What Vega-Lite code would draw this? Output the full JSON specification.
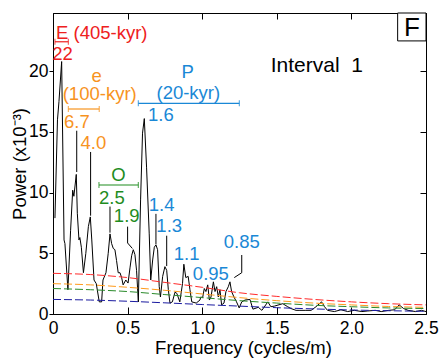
{
  "$schema": "https://vega.github.io/schema/vega-lite/v6.json",
  "width": 373,
  "height": 301,
  "autosize": "none",
  "padding": {"left": 53, "top": 13, "right": 16, "bottom": 44},
  "config": {
    "view": {"stroke": "black", "strokeWidth": 1},
    "font": "Liberation Sans",
    "axis": {"grid": false, "domainColor": "black", "tickColor": "black", "labelColor": "black", "titleColor": "black", "labelFont": "Liberation Sans", "titleFont": "Liberation Sans", "titleFontWeight": "normal", "domainWidth": 1, "tickWidth": 1}
  },
  "datasets": {
    "spectrum": [
      {"f": 0.013, "p": 7.9}, {"f": 0.03, "p": 16.0}, {"f": 0.04, "p": 17.5}, {"f": 0.058, "p": 20.8}, {"f": 0.074, "p": 6.1}, {"f": 0.08, "p": 5.8}, {"f": 0.1, "p": 2.0}, {"f": 0.118, "p": 6.9}, {"f": 0.132, "p": 10.2}, {"f": 0.14, "p": 9.7}, {"f": 0.156, "p": 11.5}, {"f": 0.163, "p": 8.3}, {"f": 0.174, "p": 6.1}, {"f": 0.18, "p": 6.3}, {"f": 0.19, "p": 5.5}, {"f": 0.204, "p": 3.4}, {"f": 0.22, "p": 5.0}, {"f": 0.237, "p": 7.2}, {"f": 0.25, "p": 8.0}, {"f": 0.26, "p": 6.1}, {"f": 0.275, "p": 2.8}, {"f": 0.29, "p": 2.5}, {"f": 0.31, "p": 1.0}, {"f": 0.326, "p": 1.0}, {"f": 0.335, "p": 2.8}, {"f": 0.355, "p": 3.4}, {"f": 0.37, "p": 5.0}, {"f": 0.382, "p": 6.6}, {"f": 0.393, "p": 5.8}, {"f": 0.404, "p": 5.4}, {"f": 0.415, "p": 5.3}, {"f": 0.426, "p": 4.4}, {"f": 0.437, "p": 3.4}, {"f": 0.449, "p": 3.4}, {"f": 0.46, "p": 3.0}, {"f": 0.47, "p": 2.4}, {"f": 0.488, "p": 2.8}, {"f": 0.503, "p": 2.55}, {"f": 0.516, "p": 3.8}, {"f": 0.527, "p": 4.8}, {"f": 0.538, "p": 5.3}, {"f": 0.549, "p": 4.9}, {"f": 0.56, "p": 3.6}, {"f": 0.572, "p": 1.0}, {"f": 0.587, "p": 9.4}, {"f": 0.6, "p": 14.9}, {"f": 0.612, "p": 16.1}, {"f": 0.627, "p": 12.1}, {"f": 0.645, "p": 6.6}, {"f": 0.655, "p": 2.8}, {"f": 0.668, "p": 4.45}, {"f": 0.679, "p": 5.5}, {"f": 0.69, "p": 5.7}, {"f": 0.701, "p": 5.3}, {"f": 0.712, "p": 2.25}, {"f": 0.72, "p": 1.4}, {"f": 0.735, "p": 3.1}, {"f": 0.75, "p": 3.9}, {"f": 0.762, "p": 3.6}, {"f": 0.773, "p": 2.0}, {"f": 0.784, "p": 0.9}, {"f": 0.8, "p": 1.0}, {"f": 0.818, "p": 1.8}, {"f": 0.83, "p": 1.7}, {"f": 0.85, "p": 1.0}, {"f": 0.868, "p": 2.5}, {"f": 0.877, "p": 4.1}, {"f": 0.89, "p": 3.0}, {"f": 0.906, "p": 3.1}, {"f": 0.918, "p": 2.0}, {"f": 0.93, "p": 1.0}, {"f": 0.96, "p": 0.9}, {"f": 0.985, "p": 1.15}, {"f": 0.99, "p": 1.4}, {"f": 1.003, "p": 1.35}, {"f": 1.014, "p": 2.1}, {"f": 1.025, "p": 1.85}, {"f": 1.037, "p": 2.4}, {"f": 1.048, "p": 1.15}, {"f": 1.059, "p": 1.4}, {"f": 1.075, "p": 2.65}, {"f": 1.086, "p": 1.85}, {"f": 1.097, "p": 2.25}, {"f": 1.108, "p": 1.4}, {"f": 1.119, "p": 2.0}, {"f": 1.13, "p": 0.75}, {"f": 1.146, "p": 0.9}, {"f": 1.159, "p": 1.85}, {"f": 1.175, "p": 2.25}, {"f": 1.186, "p": 2.65}, {"f": 1.197, "p": 1.85}, {"f": 1.213, "p": 1.4}, {"f": 1.23, "p": 1.0}, {"f": 1.248, "p": 0.5}, {"f": 1.265, "p": 1.0}, {"f": 1.287, "p": 1.15}, {"f": 1.32, "p": 1.2}, {"f": 1.34, "p": 0.4}, {"f": 1.376, "p": 0.55}, {"f": 1.4, "p": 0.3}, {"f": 1.44, "p": 1.0}, {"f": 1.46, "p": 0.6}, {"f": 1.484, "p": 0.65}, {"f": 1.54, "p": 0.85}, {"f": 1.573, "p": 0.6}, {"f": 1.595, "p": 0.45}, {"f": 1.629, "p": 0.3}, {"f": 1.655, "p": 0.3}, {"f": 1.69, "p": 0.3}, {"f": 1.73, "p": 0.3}, {"f": 1.763, "p": 0.6}, {"f": 1.8, "p": 1.0}, {"f": 1.82, "p": 0.6}, {"f": 1.84, "p": 0.3}, {"f": 1.886, "p": 0.2}, {"f": 1.93, "p": 0.35}, {"f": 1.975, "p": 0.2}, {"f": 2.02, "p": 0.3}, {"f": 2.07, "p": 0.2}, {"f": 2.11, "p": 0.25}, {"f": 2.16, "p": 0.3}, {"f": 2.2, "p": 0.2}, {"f": 2.25, "p": 0.3}, {"f": 2.29, "p": 0.35}, {"f": 2.32, "p": 0.75}, {"f": 2.35, "p": 0.45}, {"f": 2.38, "p": 0.3}, {"f": 2.43, "p": 0.2}, {"f": 2.47, "p": 0.3}, {"f": 2.5, "p": 0.2}
    ],
    "levels": [
      {"g": "99%", "f": 0, "p": 3.35}, {"g": "99%", "f": 0.25, "p": 3.25}, {"g": "99%", "f": 0.5, "p": 3.0}, {"g": "99%", "f": 0.75, "p": 2.6}, {"g": "99%", "f": 1.0, "p": 2.2}, {"g": "99%", "f": 1.25, "p": 1.75}, {"g": "99%", "f": 1.5, "p": 1.45}, {"g": "99%", "f": 1.75, "p": 1.2}, {"g": "99%", "f": 2.0, "p": 1.0}, {"g": "99%", "f": 2.25, "p": 0.85}, {"g": "99%", "f": 2.5, "p": 0.75},
      {"g": "95%", "f": 0, "p": 2.5}, {"g": "95%", "f": 0.25, "p": 2.4}, {"g": "95%", "f": 0.5, "p": 2.2}, {"g": "95%", "f": 0.75, "p": 1.95}, {"g": "95%", "f": 1.0, "p": 1.65}, {"g": "95%", "f": 1.25, "p": 1.35}, {"g": "95%", "f": 1.5, "p": 1.1}, {"g": "95%", "f": 1.75, "p": 0.9}, {"g": "95%", "f": 2.0, "p": 0.75}, {"g": "95%", "f": 2.25, "p": 0.62}, {"g": "95%", "f": 2.5, "p": 0.55},
      {"g": "90%", "f": 0, "p": 2.1}, {"g": "90%", "f": 0.25, "p": 2.0}, {"g": "90%", "f": 0.5, "p": 1.85}, {"g": "90%", "f": 0.75, "p": 1.6}, {"g": "90%", "f": 1.0, "p": 1.35}, {"g": "90%", "f": 1.25, "p": 1.1}, {"g": "90%", "f": 1.5, "p": 0.9}, {"g": "90%", "f": 1.75, "p": 0.72}, {"g": "90%", "f": 2.0, "p": 0.6}, {"g": "90%", "f": 2.25, "p": 0.5}, {"g": "90%", "f": 2.5, "p": 0.45},
      {"g": "AR1", "f": 0, "p": 1.2}, {"g": "AR1", "f": 0.25, "p": 1.15}, {"g": "AR1", "f": 0.5, "p": 1.05}, {"g": "AR1", "f": 0.75, "p": 0.92}, {"g": "AR1", "f": 1.0, "p": 0.78}, {"g": "AR1", "f": 1.25, "p": 0.65}, {"g": "AR1", "f": 1.5, "p": 0.52}, {"g": "AR1", "f": 1.75, "p": 0.42}, {"g": "AR1", "f": 2.0, "p": 0.33}, {"g": "AR1", "f": 2.25, "p": 0.27}, {"g": "AR1", "f": 2.5, "p": 0.22}
    ],
    "labels": [
      {"t": "E (405-kyr)", "g": "E", "f": 0.327, "p": 22.63},
      {"t": "22", "g": "E", "f": 0.064, "p": 20.92},
      {"t": "e", "g": "e", "f": 0.293, "p": 19.14},
      {"t": "(100-kyr)", "g": "e", "f": 0.313, "p": 17.63},
      {"t": "6.7", "g": "e", "f": 0.16, "p": 15.3},
      {"t": "4.0", "g": "e", "f": 0.271, "p": 13.59},
      {"t": "O", "g": "O", "f": 0.438, "p": 10.96},
      {"t": "2.5", "g": "O", "f": 0.395, "p": 9.03},
      {"t": "1.9", "g": "O", "f": 0.494, "p": 7.55},
      {"t": "P", "g": "P", "f": 0.903, "p": 19.45},
      {"t": "(20-kyr)", "g": "P", "f": 0.907, "p": 17.7},
      {"t": "1.6", "g": "P", "f": 0.723, "p": 15.93},
      {"t": "1.4", "g": "P", "f": 0.728, "p": 8.51},
      {"t": "1.3", "g": "P", "f": 0.779, "p": 6.78},
      {"t": "1.1", "g": "P", "f": 0.896, "p": 4.45},
      {"t": "0.95", "g": "P", "f": 1.058, "p": 2.8},
      {"t": "0.85", "g": "P", "f": 1.265, "p": 5.41}
    ],
    "bars": [
      {"g": "E", "f": 0.013, "f2": 0.103, "p": 22.43},
      {"g": "e", "f": 0.103, "f2": 0.31, "p": 16.89},
      {"g": "O", "f": 0.308, "f2": 0.572, "p": 10.63},
      {"g": "P", "f": 0.572, "f2": 1.249, "p": 17.36}
    ],
    "leaders": [
      {"id": "6.7", "k": 1, "f": 0.159, "p": 15.1}, {"id": "6.7", "k": 2, "f": 0.159, "p": 11.7},
      {"id": "4.0", "k": 1, "f": 0.252, "p": 13.35}, {"id": "4.0", "k": 2, "f": 0.252, "p": 8.1},
      {"id": "2.5", "k": 1, "f": 0.382, "p": 8.85}, {"id": "2.5", "k": 2, "f": 0.382, "p": 6.7},
      {"id": "1.9", "k": 1, "f": 0.5, "p": 7.2}, {"id": "1.9", "k": 2, "f": 0.5, "p": 5.85}, {"id": "1.9", "k": 3, "f": 0.532, "p": 5.4},
      {"id": "1.4", "k": 1, "f": 0.69, "p": 8.25}, {"id": "1.4", "k": 2, "f": 0.69, "p": 5.75},
      {"id": "1.3", "k": 1, "f": 0.762, "p": 6.45}, {"id": "1.3", "k": 2, "f": 0.762, "p": 3.95},
      {"id": "0.85", "k": 1, "f": 1.265, "p": 4.86}, {"id": "0.85", "k": 2, "f": 1.265, "p": 3.4}, {"id": "0.85", "k": 3, "f": 1.215, "p": 3.0}
    ],
    "box": [{"t": "F", "f": 2.31, "f2": 2.5, "p": 22.5, "p2": 24.8, "fc": 2.405, "pc": 22.9}],
    "notes": [{"t": "Interval\u00a0 1", "f": 1.768, "p": 19.96}]
  },
  "layer": [
    {
      "data": {"name": "spectrum"},
      "mark": {"type": "line", "color": "black", "strokeWidth": 1},
      "encoding": {
        "x": {"field": "f", "type": "quantitative", "scale": {"domain": [0, 2.5], "nice": false, "zero": false},
          "axis": {"orient": "bottom", "values": [0, 0.5, 1, 1.5, 2, 2.5], "tickSize": -7, "labelPadding": 12, "labelFontSize": 17.5, "labelFlush": false, "labelOverlap": false, "labelExpr": "datum.value == 0 ? '0' : format(datum.value, '.1f')", "title": "Frequency (cycles/m)", "titleFontSize": 18.5, "titleX": 190, "titleY": 39, "titleBaseline": "alphabetic", "titleAlign": "center"}},
        "y": {"field": "p", "type": "quantitative", "scale": {"domain": [0, 24.8], "nice": false},
          "axis": {"orient": "left", "values": [0, 5, 10, 15, 20], "tickSize": 4, "labelPadding": 1, "labelFontSize": 17.5, "labelFlush": false, "labelOverlap": false, "title": "Power (x10⁻³)", "titleFontSize": 18.5, "titleX": -33.5, "titleY": 150.5, "titleAngle": -90, "titleAlign": "center", "titleBaseline": "middle"}}
      }
    },
    {
      "data": {"name": "levels"},
      "mark": {"type": "line", "strokeDash": [8, 3], "strokeWidth": 1, "interpolate": "monotone"},
      "encoding": {
        "x": {"field": "f", "type": "quantitative", "axis": {"orient": "top", "values": [0.5, 1, 1.5, 2], "tickSize": -6, "labels": false, "title": null}},
        "y": {"field": "p", "type": "quantitative", "axis": {"orient": "right", "values": [5, 10, 15, 20], "tickSize": -6, "labels": false, "title": null}},
        "color": {"field": "g", "type": "nominal", "legend": null,
          "scale": {"domain": ["99%", "95%", "90%", "AR1", "E", "e", "O", "P"], "range": ["#ff2a2a", "#ff9a1a", "#2a8a2a", "#1a1aa0", "#ee2020", "#f7931e", "#1e8c1e", "#1a88d6"]}}
      }
    },
    {
      "data": {"name": "leaders"},
      "mark": {"type": "line", "color": "black", "strokeWidth": 1},
      "encoding": {
        "x": {"field": "f", "type": "quantitative", "axis": null},
        "y": {"field": "p", "type": "quantitative", "axis": null},
        "detail": {"field": "id"},
        "order": {"field": "k"}
      }
    },
    {
      "data": {"name": "bars"},
      "mark": {"type": "rule", "strokeWidth": 1.2},
      "encoding": {
        "x": {"field": "f", "type": "quantitative", "axis": null},
        "x2": {"field": "f2"},
        "y": {"field": "p", "type": "quantitative", "axis": null},
        "color": {"field": "g", "type": "nominal", "legend": null}
      }
    },
    {
      "data": {"name": "bars"},
      "mark": {"type": "tick", "orient": "vertical", "size": 6, "thickness": 1.2},
      "encoding": {
        "x": {"field": "f", "type": "quantitative", "axis": null},
        "y": {"field": "p", "type": "quantitative", "axis": null},
        "color": {"field": "g", "type": "nominal", "legend": null}
      }
    },
    {
      "data": {"name": "bars"},
      "mark": {"type": "tick", "orient": "vertical", "size": 6, "thickness": 1.2},
      "encoding": {
        "x": {"field": "f2", "type": "quantitative", "axis": null},
        "y": {"field": "p", "type": "quantitative", "axis": null},
        "color": {"field": "g", "type": "nominal", "legend": null}
      }
    },
    {
      "data": {"name": "labels"},
      "mark": {"type": "text", "align": "center", "baseline": "alphabetic", "fontSize": 18.5, "font": "Liberation Sans"},
      "encoding": {
        "x": {"field": "f", "type": "quantitative", "axis": null},
        "y": {"field": "p", "type": "quantitative", "axis": null},
        "text": {"field": "t"},
        "color": {"field": "g", "type": "nominal", "legend": null}
      }
    },
    {
      "data": {"name": "notes"},
      "mark": {"type": "text", "align": "center", "baseline": "alphabetic", "fontSize": 21, "font": "Liberation Sans", "color": "black"},
      "encoding": {
        "x": {"field": "f", "type": "quantitative", "axis": null},
        "y": {"field": "p", "type": "quantitative", "axis": null},
        "text": {"field": "t"}
      }
    },
    {
      "data": {"name": "box"},
      "mark": {"type": "rect", "fill": "white", "stroke": "black", "strokeWidth": 1},
      "encoding": {
        "x": {"field": "f", "type": "quantitative", "axis": null},
        "x2": {"field": "f2"},
        "y": {"field": "p", "type": "quantitative", "axis": null},
        "y2": {"field": "p2"}
      }
    },
    {
      "data": {"name": "box"},
      "mark": {"type": "text", "align": "center", "baseline": "alphabetic", "fontSize": 26, "font": "Liberation Sans", "color": "black"},
      "encoding": {
        "x": {"field": "fc", "type": "quantitative", "axis": null},
        "y": {"field": "pc", "type": "quantitative", "axis": null},
        "text": {"field": "t"}
      }
    }
  ],
  "resolve": {"axis": {"x": "independent", "y": "independent"}}
}
